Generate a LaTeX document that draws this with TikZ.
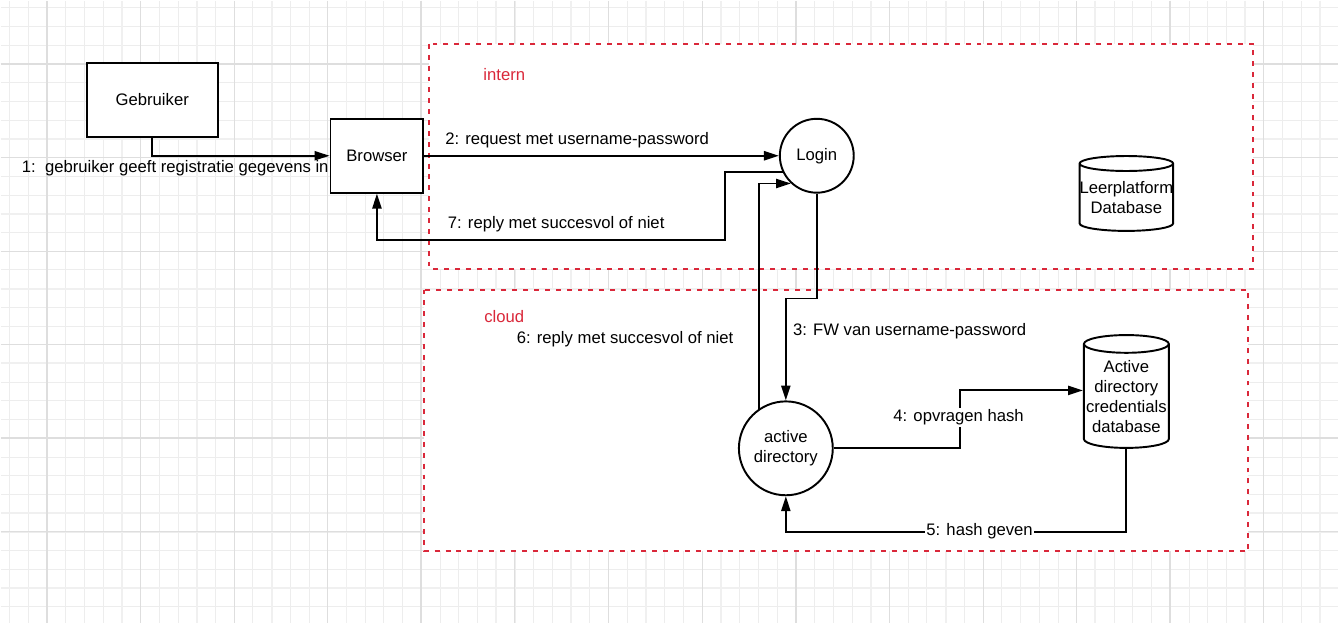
\documentclass[tikz,border=0pt]{standalone}
\usepackage{fontspec}
\setmainfont{Liberation Sans}
\usetikzlibrary{arrows.meta,shapes.geometric}
\definecolor{regionred}{RGB}{218,40,58}
\begin{document}
\begin{tikzpicture}[x=0.2mm,y=-0.2mm,line width=1.1pt,>={Triangle[length=8.5pt,width=5.2pt]},
        every node/.style={font=\fontsize{9.5}{11.5}\selectfont},
        box/.style={draw,rectangle,fill=white,inner sep=0pt},
        proc/.style={draw,circle,fill=white,inner sep=0pt,align=center},
        store/.style={draw,cylinder,shape border rotate=90,fill=white,inner sep=0pt,align=center},
        region/.style={draw=regionred,fill=white,dash pattern=on 2.8pt off 3.4pt},
        msg/.style={inner sep=1pt}]
            % background and grid
            \fill[white](0,0)rectangle(1339,623);
            \foreach \k in {0,...,70} \draw[line width=0.5pt,gray!14]({8.5+\k*18.75},0)--++(0,623);
            \foreach \k in {0,...,32} \draw[line width=0.5pt,gray!14](0,{6.75+\k*18.75})--++(1339,0);
            \foreach \k in {0,...,17} \draw[gray!12](46+\k*75,0)--++(0,623);
            \foreach \k in {0,...,7} \draw[gray!12](0,63+\k*75)--++(1339,0);
            \foreach \k in {0,...,13} \draw[line width=0.55pt,gray!26]({46+\k*93.75},0)--++(0,623);
            \foreach \k in {0,...,5} \draw[line width=0.55pt,gray!26](0,{63+\k*93.75})--++(1339,0);
            \foreach \k in {0,...,3} \draw[gray!26](46+\k*375,0)--++(0,623);
            \foreach \k in {0,1} \draw[gray!26](0,63+\k*375)--++(1339,0);
            \useasboundingbox(0,0)rectangle(1339,623);
            % regions
            \draw[region](429,43)rectangle(1254,268);
            \draw[region](424,289)rectangle(1249,551);
            \node[text=regionred](intern)at(504,74){intern};
            \node[text=regionred](cloud)at(504,316){cloud};
            % nodes
            \node[box,minimum width=26.2mm,minimum height=14.8mm](gebr)at(151.5,99){Gebruiker};
            \node[box,minimum width=18.6mm,minimum height=14.8mm](browser)at(376.5,155){Browser};
            \node[proc,minimum size=14.8mm](login)at(817,155){Login};
            \node[proc,minimum size=18.8mm](adir)at(786,448){active\\directory};
            \node[store,aspect=0.16,minimum width=18.6mm,minimum height=15mm](leerdb)at(1127,197){Leerplatform\\Database};
            \node[store,aspect=0.22,minimum width=17mm,minimum height=22.6mm](creddb)at(1127,396){Active\\directory\\credentials\\database};
            % connectors
            \draw[->](gebr.south)|-(browser.west);
            \draw[->](browser.east)--(login.west);
            \draw[->](login.south)--++(0,105)-|(adir.north);
            \draw[->](adir.east)--++(126,0)|-([yshift=3.4pt]creddb.west);
            \draw[->](creddb.south)--++(0,83)-|(adir.south);
            \draw[->](adir.124)|-(login.227);
            \draw[->](login.206)-|(725,239)-|(browser.south);
            % labels
            \node[msg](m1)at(174.5,167){1:\ \ gebruiker geeft registratie gegevens in};
            \node[msg](m2)at(577,139){2: request met username-password};
            \node[msg](m3)at(910,331){3: FW van username-password};
            \node[msg,fill=white](m4)at(959,417){4: opvragen hash};
            \node[msg,fill=white](m5)at(980,531){5: hash geven};
            \node[msg](m6)at(625,339){6: reply met succesvol of niet};
            \node[msg](m7)at(556,224){7: reply met succesvol of niet};
        \end{tikzpicture}
\end{document}
